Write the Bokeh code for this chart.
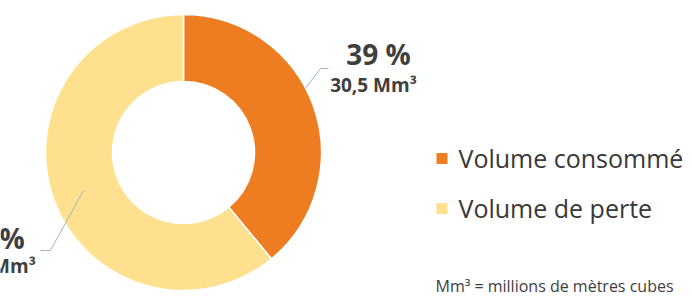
import numpy as np
from bokeh.plotting import figure
from bokeh.models import Range1d, ColumnDataSource, Label
from bokeh.core.properties import value
from bokeh.embed import file_html
from bokeh.resources import INLINE

# ---- data ----
categories = ["Volume consommé", "Volume de perte"]
volumes_mm3 = [30.5, 47.7]
colors = ["#EE7D22", "#FEE08E"]
unit_note = "Mm³ = millions de mètres cubes"

total = sum(volumes_mm3)
fracs = [v / total for v in volumes_mm3]
cum = np.concatenate([[0.0], np.cumsum(fracs)])
start_angles = np.pi / 2 - 2 * np.pi * cum[1:]
end_angles = np.pi / 2 - 2 * np.pi * cum[:-1]
mid_angles = (start_angles + end_angles) / 2

pct_labels = [f"{round(f * 100)} %" for f in fracs]
vol_labels = [f"{v:.1f}".replace(".", ",") + " Mm³" for v in volumes_mm3]

# ---- layout (pixel units, donut centre at 0,0) ----
R_OUT, R_IN = 138, 71
W, H = 692, 296

p = figure(width=W, height=H, x_range=Range1d(-183, W - 183), y_range=Range1d(152 - H, 152),
           output_backend="svg", toolbar_location=None, min_border=0)
p.axis.visible = False
p.grid.visible = False
p.outline_line_color = None
p.background_fill_color = "white"
p.border_fill_color = "white"

src = ColumnDataSource(dict(start=start_angles, end=end_angles, color=colors))
p.annular_wedge(x=0, y=0, inner_radius=R_IN, outer_radius=R_OUT,
                start_angle="start", end_angle="end", direction="anticlock",
                fill_color="color", line_color="white", line_width=1.5, source=src)

# leader lines (from ring toward label)
lead_col = "#A3B2C4"
a = mid_angles[0] + np.radians(8)
ex, ey = R_OUT * np.cos(a), R_OUT * np.sin(a)
p.line(x=[145, 137, ex], y=[84, 84, ey], line_color=lead_col, line_width=1)
a = mid_angles[1] + np.radians(1)
ex, ey = 107 * np.cos(a), 107 * np.sin(a)
p.line(x=[-143, -133, ex], y=[-98, -98, ey], line_color=lead_col, line_width=1)

# data labels
txt_col = "#3F3F3F"
label_pos = [((195, 99), (190, 68)), ((-191, -85), (-191, -113))]
for i in range(2):
    (px_, py_), (vx, vy) = label_pos[i]
    p.add_layout(Label(x=px_, y=py_, text=pct_labels[i], text_font="Open Sans",
                       text_font_style="bold", text_font_size="28px", text_color=txt_col,
                       text_align="center", text_baseline="alphabetic"))
    p.add_layout(Label(x=vx, y=vy, text=vol_labels[i], text_font="Open Sans",
                       text_font_style="bold", text_font_size="19px", text_color=txt_col,
                       text_align="center", text_baseline="alphabetic"))

# legend
leg_y = [-6 - 50 * i for i in range(len(categories))]
p.scatter(x=[258.5] * len(categories), y=leg_y, marker="square", size=11,
          fill_color=colors, line_color=None)
p.text(x=[275] * len(categories), y=[yy + 1 for yy in leg_y], text=categories,
       text_font=value("Open Sans"), text_font_size="25px", text_color="#383838",
       text_align="left", text_baseline="alphabetic")

# unit note
p.add_layout(Label(x=252, y=-133, text=unit_note, text_font="Open Sans",
                   text_font_size="16px", text_color="#404040",
                   text_align="left", text_baseline="alphabetic"))

open("out.html", "w").write(file_html(p, INLINE))
